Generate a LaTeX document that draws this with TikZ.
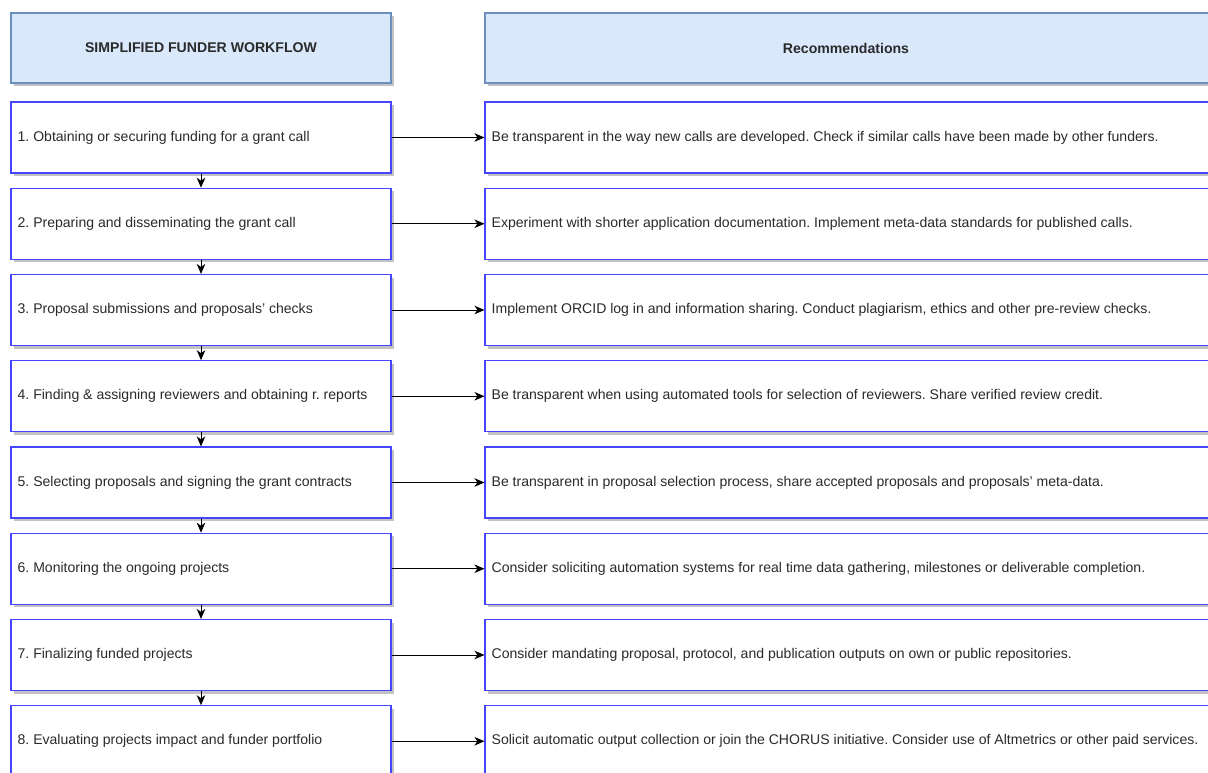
\documentclass[tikz,border=0pt]{standalone}
\usepackage{fontspec}
\setmainfont{Liberation Sans}
\usetikzlibrary{arrows.meta,shadows}
\definecolor{hdrfill}{HTML}{DAE8FC}
\definecolor{hdrline}{HTML}{6C8EBF}
\definecolor{boxline}{HTML}{4545FF}
\definecolor{txtcol}{HTML}{2A2A2A}
\frenchspacing
\begin{document}
\begin{tikzpicture}[x=1pt,y=-1pt,
  shd/.style={drop shadow={shadow xshift=3pt,shadow yshift=-3pt,fill=black!24,opacity=1}},
  hdr/.style={draw=hdrline, fill=hdrfill, line width=1.1pt, shd, minimum height=70pt, inner sep=0pt,
    font=\fontsize{14.1}{16}\selectfont\bfseries, text=txtcol},
  lbox/.style={draw=boxline, fill=white, line width=1.1pt, shd, minimum width=380pt, minimum height=71pt, inner sep=0pt},
  rbox/.style={draw=boxline, fill=white, line width=1.1pt, shd, minimum width=725pt, minimum height=71pt, inner sep=0pt},
  txt/.style={anchor=west, inner sep=0pt, font=\fontsize{14.05}{16}\selectfont, text=txtcol},
  arr/.style={draw=black, line width=1pt, -{Stealth[length=10pt,width=8.5pt,inset=3pt]}}]
\clip (0,0) rectangle (1208,773);
\fill[white] (0,0) rectangle (1208,773);
\node[hdr, minimum width=380pt] (h1) at (201,48) {SIMPLIFIED FUNDER WORKFLOW};
\node[hdr, minimum width=725pt] (h2) at (847.5,48) {};
\node[font=\fontsize{14.1}{16}\selectfont\bfseries, text=txtcol, inner sep=0pt] (h2t) at (846,48) {Recommendations};
\foreach \i/\lt/\rt in {
 1/{1. Obtaining or securing funding for a grant call}/{Be transparent in the way new calls are developed. Check if similar calls have been made by other funders.},
 2/{2. Preparing and disseminating the grant call}/{Experiment with shorter application documentation. Implement meta-data standards for published calls.},
 3/{3. Proposal submissions and proposals' checks}/{Implement ORCID log in and information sharing. Conduct plagiarism, ethics and other pre-review checks.},
 4/{4. Finding \& assigning reviewers and obtaining r. reports}/{Be transparent when using automated tools for selection of reviewers. Share verified review credit.},
 5/{5. Selecting proposals and signing the grant contracts}/{Be transparent in proposal selection process, share accepted proposals and proposals' meta-data.},
 6/{6. Monitoring the ongoing projects}/{Consider soliciting automation systems for real time data gathering, milestones or deliverable completion.},
 7/{7. Finalizing funded projects}/{Consider mandating proposal, protocol, and publication outputs on own or public repositories.},
 8/{8. Evaluating projects impact and funder portfolio}/{Solicit automatic output collection or join the CHORUS initiative. Consider use of Altmetrics or other paid services.}} {
  \pgfmathsetmacro{\cy}{137.5+86.25*(\i-1)}
  \node[lbox] (s\i) at (201,\cy) {};
  \node[txt] (s\i t) at ([xshift=7pt]s\i.west) {\lt};
  \node[rbox] (r\i) at (847.5,\cy) {};
  \node[txt] (r\i t) at ([xshift=7pt]r\i.west) {\rt};
}
\foreach \i [count=\j from 2] in {1,...,7} \draw[arr] (s\i.south) -- (s\j.north);
\foreach \i in {1,...,8} \draw[arr] (s\i.east) -- (r\i.west);
\end{tikzpicture}
\end{document}
